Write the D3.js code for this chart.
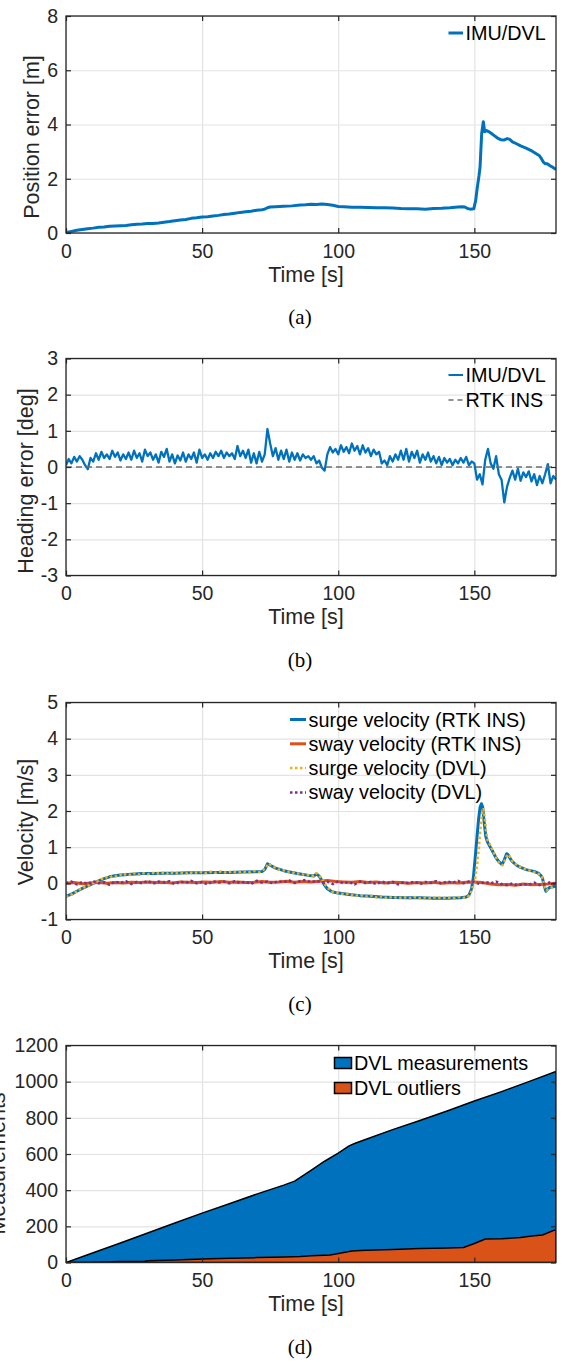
<!DOCTYPE html>
<html lang="en">
<head>
<meta charset="UTF-8">
<title>IMU/DVL navigation results</title>
<script src="https://d3js.org/d3.v7.min.js"></script>
<style>
  body { margin: 0; background: #fff; }
  svg { display: block; font-family: "Liberation Sans", Arial, sans-serif; }
  .tick text { fill: #262626; font-size: 19.5px; font-family: "Liberation Sans", Arial, sans-serif; }
  .tick line { stroke: #262626; stroke-width: 1.2; }
  .grid line { stroke: #e3e3e3; stroke-width: 1.2; }
  .grid path, .frame path { display: none; }
  .axis-label { font-size: 21.5px; fill: #262626; text-anchor: middle; }
  .caption { font-family: "Liberation Serif", "Times New Roman", serif; font-size: 21px; text-anchor: middle; fill: #000; }
  .legend text { font-size: 19.8px; fill: #000; }
</style>
</head>
<body>
<svg id="chart" width="565" height="1362"></svg>
<script>
// ---- data ----
const timeTicks = [0, 50, 100, 150];

// (a) position error [m], pairs of [time s, value]
const posError = [[0,0.02],[2,0.06],[4,0.1],[6,0.13],[8,0.16],[10,0.18],[12,0.21],[14,0.22],[16,0.25],[18,0.26],
  [20,0.27],[22,0.28],[24,0.3],[26,0.32],[28,0.33],[30,0.35],[32,0.35],[34,0.37],[36,0.4],[38,0.42],
  [40,0.45],[42,0.48],[44,0.5],[46,0.54],[48,0.56],[50,0.59],[52,0.6],[54,0.63],[56,0.65],[58,0.68],
  [60,0.7],[62,0.73],[64,0.76],[66,0.78],[68,0.8],[70,0.84],[72,0.86],[73,0.88],[74,0.93],[75,0.96],
  [77,0.97],[80,0.99],[83,1.0],[86,1.03],[88,1.04],[90,1.06],[92,1.05],[94,1.07],[96,1.05],[98,1.02],
  [100,0.98],[102,0.97],[105,0.95],[108,0.95],[111,0.94],[114,0.93],[117,0.93],[120,0.92],[123,0.9],[126,0.89],
  [129,0.89],[132,0.88],[135,0.9],[138,0.91],[141,0.93],[144,0.96],[145.5,0.97],[146.5,0.96],[147.5,0.9],[148.5,0.88],
  [149.8,0.89],[150.5,1.2],[151.1,1.69],[151.7,2.1],[152.1,2.43],[152.7,3.67],[153.3,4.1],[153.8,3.73],[154.5,3.78],[155.4,3.73],
  [156.3,3.67],[157.2,3.6],[158.5,3.5],[159.7,3.44],[161,3.43],[162.1,3.48],[163,3.45],[164,3.36],[165.5,3.29],[167,3.21],
  [169,3.13],[170.7,3.05],[172.3,2.95],[173.8,2.86],[174.6,2.75],[175.4,2.61],[176.1,2.55],[176.8,2.55],[177.8,2.48],[178.7,2.43],
  [180,2.34]];

// (b) heading error [deg], one sample per second from t = 0
const headingStep = 1;
const headingError = [
  0.05,0.22,0.1,0.28,0.15,0.3,0.2,0.05,-0.06,0.25,
  0.15,0.38,0.2,0.42,0.25,0.35,0.22,0.45,0.28,0.4,
  0.18,0.35,0.22,0.4,0.2,0.45,0.25,0.38,0.15,0.48,
  0.3,0.4,0.2,0.35,0.12,0.42,0.28,0.5,0.15,0.35,
  0.1,0.32,0.18,0.4,0.15,0.35,0.22,0.4,0.12,0.48,
  0.25,0.35,0.2,0.38,0.25,0.42,0.3,0.45,0.25,0.4,
  0.3,0.38,0.22,0.58,0.3,0.45,0.25,0.48,0.12,0.38,
  0.1,0.42,0.15,0.35,1.05,0.65,0.3,0.52,0.2,0.45,
  0.22,0.48,0.15,0.4,0.2,0.38,0.18,0.35,0.25,0.3,
  0.2,0.3,0.1,0.18,-0.02,-0.1,0.35,0.55,0.4,0.5,
  0.35,0.6,0.42,0.55,0.38,0.65,0.45,0.58,0.35,0.6,
  0.4,0.52,0.3,0.48,0.35,0.42,0.1,0.18,0.05,0.3,
  0.15,0.35,0.2,0.45,0.2,0.5,0.15,0.42,0.25,0.45,
  0.12,0.35,0.2,0.4,0.15,0.3,0.1,0.28,0.05,0.25,
  0.12,0.22,0.05,0.2,0.1,0.25,0.12,0.28,0.05,0.15,
  0.1,-0.35,-0.2,-0.48,0.2,0.5,0.1,-0.05,0.3,-0.2,
  -0.35,-0.98,-0.55,-0.3,-0.1,-0.35,-0.05,-0.38,-0.15,-0.28,
  -0.12,-0.4,-0.2,-0.5,-0.25,-0.45,-0.2,0.08,-0.45,-0.25,
  -0.35];
const rtkHeading = [[0,0],[180,0]];

// (c) velocities [m/s]
const surgeRtk = [[0,-0.36],[2,-0.3],[4,-0.22],[6,-0.14],[8,-0.07],[10,0.0],[12,0.07],[14,0.13],[16,0.18],[18,0.21],
  [20,0.23],[24,0.25],[28,0.27],[32,0.27],[36,0.28],[40,0.28],[45,0.29],[50,0.29],[55,0.3],[60,0.3],
  [65,0.31],[70,0.32],[72,0.33],[73,0.38],[74,0.54],[75,0.5],[77,0.42],[80,0.35],[83,0.3],[86,0.26],
  [89,0.22],[91,0.2],[92,0.26],[93,0.2],[94,0.08],[95,-0.05],[96,-0.15],[97,-0.2],[98,-0.24],[100,-0.27],
  [104,-0.31],[108,-0.34],[112,-0.36],[116,-0.38],[120,-0.39],[125,-0.4],[130,-0.4],[135,-0.41],[140,-0.41],[145,-0.4],
  [147,-0.38],[148,-0.33],[149,-0.15],[149.7,0.2],[150.3,0.7],[151,1.3],[151.6,1.8],[152.1,2.1],[152.6,2.2],[153.1,2.1],
  [153.6,1.7],[154.2,1.3],[154.8,1.15],[155.5,1.05],[156.6,0.9],[158,0.7],[159,0.6],[160.2,0.52],[161,0.65],[161.9,0.82],
  [162.5,0.78],[163.2,0.68],[164,0.6],[165.5,0.5],[167,0.44],[169,0.38],[171.9,0.33],[173.5,0.28],[174.4,0.22],[175,0.15],
  [175.6,-0.05],[176.3,-0.22],[176.8,-0.18],[177.5,-0.12],[178.5,-0.1],[180,-0.07]];
const surgeDvl = [[0,-0.38],[1,-0.33],[2,-0.31],[3,-0.25],[4,-0.23],[5,-0.17],[6,-0.15],[7,-0.09],[8,-0.08],[9,-0.02],
  [10,0.0],[11,0.05],[12,0.06],[13,0.12],[14,0.12],[15,0.17],[16,0.16],[17,0.2],[18,0.19],[20,0.24],
  [21,0.21],[22,0.26],[24,0.23],[25,0.28],[27,0.24],[28,0.29],[30,0.25],[32,0.29],[33,0.26],[35,0.3],
  [37,0.26],[38,0.31],[40,0.27],[42,0.3],[44,0.27],[45,0.31],[47,0.28],[49,0.32],[51,0.28],[53,0.32],
  [55,0.29],[57,0.33],[59,0.29],[61,0.33],[63,0.3],[65,0.33],[67,0.3],[69,0.34],[71,0.31],[72,0.35],
  [73,0.4],[74.5,0.55],[75.5,0.49],[77,0.43],[78,0.38],[80,0.36],[81,0.33],[83,0.31],[84,0.27],[86,0.27],
  [88,0.22],[89,0.23],[91,0.2],[92,0.28],[93,0.22],[94,0.12],[95,-0.02],[96,-0.12],[97,-0.17],[98,-0.24],
  [100,-0.26],[102,-0.3],[104,-0.29],[106,-0.35],[108,-0.32],[110,-0.37],[112,-0.34],[114,-0.39],[116,-0.36],[118,-0.41],
  [120,-0.37],[122,-0.41],[124,-0.38],[126,-0.42],[128,-0.38],[130,-0.41],[132,-0.39],[134,-0.42],[136,-0.38],[138,-0.41],
  [140,-0.39],[142,-0.42],[144,-0.38],[146,-0.4],[147.5,-0.38],[148.5,-0.3],[149.5,-0.08],[150.3,0.12],[151,0.5],[151.7,1.0],
  [152.3,1.55],[152.8,1.9],[153.3,2.05],[153.8,1.85],[154.3,1.45],[154.9,1.18],[155.5,1.1],[156.5,0.95],[157.5,0.78],[158.5,0.62],
  [159.4,0.55],[160.3,0.5],[161.2,0.64],[162.2,0.8],[163,0.74],[163.8,0.63],[165,0.55],[166.3,0.47],[167.5,0.43],[169,0.38],
  [170.5,0.35],[172,0.31],[173.5,0.26],[174.5,0.22],[175.2,0.12],[175.8,-0.08],[176.5,-0.2],[177.2,-0.15],[178.2,-0.12],[179.2,-0.08],
  [180,-0.06]];
const swayRtkStep = 3;
const swayRtk = [
  0.0,0.02,-0.01,0.01,0.03,0.0,0.02,0.01,0.03,0.02,
  0.04,0.02,0.03,0.01,0.04,0.03,0.02,0.04,0.03,0.05,
  0.03,0.04,0.02,0.03,0.05,0.03,0.04,0.06,0.03,0.05,
  0.04,0.06,0.08,0.05,0.04,0.03,0.05,0.02,0.04,0.01,
  0.03,0.02,0.0,0.02,0.01,0.03,0.0,0.02,0.01,0.03,
  0.04,0.02,-0.02,-0.04,-0.03,-0.05,-0.02,-0.04,-0.03,-0.02,
  0.0];
const swayDvlStep = 2;
const swayDvl = [
  0.0,0.05,-0.03,0.04,-0.02,0.06,0.0,0.03,-0.04,0.05,
  0.01,0.06,-0.02,0.04,0.0,0.07,-0.01,0.05,0.02,0.06,
  -0.02,0.05,0.01,0.07,0.0,0.04,-0.03,0.06,0.02,0.05,
  0.0,0.06,0.01,0.05,-0.02,0.07,0.02,0.05,0.0,0.06,
  0.03,0.08,0.01,0.06,0.09,0.03,0.07,0.02,0.05,-0.02,
  0.06,0.0,0.04,-0.03,0.05,0.01,0.04,-0.02,0.05,0.0,
  0.04,-0.03,0.03,0.0,0.05,-0.02,0.04,0.01,0.06,-0.01,
  0.05,0.02,0.07,0.0,0.05,0.03,-0.02,0.04,0.0,0.05,
  -0.02,-0.05,0.0,-0.06,-0.02,-0.04,0.02,-0.05,-0.01,0.03,
  -0.02];

// (d) cumulative counts
const dvlMeasurements = [[0,0],[10,54],[20,108],[30,163],[40,218],[50,273],[60,325],[70,378],[80,428],[84,450],
  [90,510],[95,560],[100,605],[104,645],[106,658],[110,680],[120,735],[130,785],[140,838],[150,893],
  [160,945],[170,1000],[180,1057]];
const dvlOutliers = [[0,0],[9,0],[10,2],[20,5],[29,7],[30,10],[40,14],[50,19],[60,23],[70,27],
  [80,30],[86,33],[90,38],[97,42],[100,50],[105,64],[110,68],[120,72],[130,77],[140,80],
  [146,83],[150,105],[154,130],[160,132],[167,138],[171,147],[175,152],[180,183]];

// ---- layout ----
const colors = {blue: "#0072BD", orange: "#D95319", yellow: "#EDB120", purple: "#7E2F8E"};
const left = 66, pw = 490, ph = 217;
const panels = [
  {top: 16, yDomain: [0, 8], yTicks: [0, 2, 4, 6, 8], ylabel: "Position error [m]", lx: 38.7, ly: 137, caption: "(a)"},
  {top: 358.5, yDomain: [-3, 3], yTicks: [-3, -2, -1, 0, 1, 2, 3], ylabel: "Heading error [deg]", lx: 33.3, ly: 481, caption: "(b)"},
  {top: 702.5, yDomain: [-1, 5], yTicks: [-1, 0, 1, 2, 3, 4, 5], ylabel: "Velocity [m/s]", lx: 33.3, ly: 822, caption: "(c)"},
  {top: 1045.5, yDomain: [0, 1200], yTicks: [0, 200, 400, 600, 800, 1000, 1200], ylabel: "Measurements", lx: 5, ly: 1163.5, caption: "(d)"}
];

const svg = d3.select("#chart");
const x = d3.scaleLinear().domain([0, 180]).range([0, pw]);

function setup(cfg, i) {
  const g = svg.append("g").attr("transform", `translate(${left},${cfg.top})`);
  const y = d3.scaleLinear().domain(cfg.yDomain).range([ph, 0]);
  g.append("g").attr("class", "grid").attr("transform", `translate(0,${ph})`)
    .call(d3.axisBottom(x).tickValues(timeTicks).tickSize(-ph).tickFormat(""));
  g.append("g").attr("class", "grid")
    .call(d3.axisLeft(y).tickValues(cfg.yTicks).tickSize(-pw).tickFormat(""));
  g.append("clipPath").attr("id", "clip" + i).append("rect").attr("width", pw).attr("height", ph);
  const plot = g.append("g").attr("clip-path", `url(#clip${i})`);
  return {g, y, plot};
}

function frame(p, cfg) {
  const {g, y} = p;
  g.append("g").attr("class", "frame").attr("transform", `translate(0,${ph})`)
    .call(d3.axisBottom(x).tickValues(timeTicks).tickSize(-5).tickPadding(11).tickFormat(d => String(d)));
  g.append("g").attr("class", "frame")
    .call(d3.axisTop(x).tickValues(timeTicks).tickSize(-5).tickFormat(""));
  g.append("g").attr("class", "frame")
    .call(d3.axisLeft(y).tickValues(cfg.yTicks).tickSize(-5).tickPadding(8).tickFormat(d => String(d)));
  g.append("g").attr("class", "frame").attr("transform", `translate(${pw},0)`)
    .call(d3.axisRight(y).tickValues(cfg.yTicks).tickSize(-5).tickFormat(""));
  g.append("rect").attr("width", pw).attr("height", ph)
    .attr("fill", "none").attr("stroke", "#262626").attr("stroke-width", 1.3);

  svg.append("text").attr("class", "axis-label")
    .attr("x", 306).attr("y", cfg.top + ph + 48.5).text("Time [s]");
  svg.append("text").attr("class", "axis-label")
    .attr("transform", `translate(${cfg.lx},${cfg.ly}) rotate(-90)`).text(cfg.ylabel);
  svg.append("text").attr("class", "caption")
    .attr("x", 300).attr("y", cfg.top + ph + 91).text(cfg.caption);
}

function legend(items, x0, x1, y0, dy) {
  const lg = svg.append("g").attr("class", "legend");
  items.forEach((it, k) => {
    const yy = y0 + k * dy;
    if (it.patch) {
      lg.append("rect").attr("x", x0).attr("y", yy - 5.5).attr("width", x1 - x0).attr("height", 11)
        .attr("fill", it.color).attr("stroke", "#000").attr("stroke-width", 1.5);
    } else {
      lg.append("line").attr("x1", x0).attr("x2", x1).attr("y1", yy).attr("y2", yy)
        .attr("stroke", it.color).attr("stroke-width", it.width)
        .attr("stroke-dasharray", it.dash || null);
    }
    lg.append("text").attr("x", x1 + 2.5).attr("y", yy + 7).text(it.label);
  });
}

function drawLine(p, data, color, width, dash) {
  const line = d3.line().x(d => x(d[0])).y(d => p.y(d[1]));
  p.plot.append("path").datum(data).attr("d", line)
    .attr("fill", "none").attr("stroke", color).attr("stroke-width", width)
    .attr("stroke-linejoin", "round").attr("stroke-dasharray", dash || null);
}

const sampled = (arr, step) => arr.map((v, i) => [i * step, v]);

// (a)
const pa = setup(panels[0], 0);
drawLine(pa, posError, colors.blue, 3);
frame(pa, panels[0]);
legend([{label: "IMU/DVL", color: colors.blue, width: 3}], 448.5, 463, 33, 25);

// (b)
const pb = setup(panels[1], 1);
drawLine(pb, sampled(headingError, headingStep), colors.blue, 2.3);
drawLine(pb, rtkHeading, "#6e6e6e", 1.5, "6,4");
frame(pb, panels[1]);
legend([
  {label: "IMU/DVL", color: colors.blue, width: 2},
  {label: "RTK INS", color: "#6e6e6e", width: 1.5, dash: "5,4"}
], 448.5, 463, 375, 25);

// (c)
const pc = setup(panels[2], 2);
drawLine(pc, surgeRtk, colors.blue, 3);
drawLine(pc, sampled(swayRtk, swayRtkStep), colors.orange, 3);
drawLine(pc, surgeDvl, colors.yellow, 2.5, "2.5,2.5");
drawLine(pc, sampled(swayDvl, swayDvlStep), colors.purple, 2.5, "2.5,2.5");
frame(pc, panels[2]);
legend([
  {label: "surge velocity (RTK INS)", color: colors.blue, width: 3},
  {label: "sway velocity (RTK INS)", color: colors.orange, width: 3},
  {label: "surge velocity (DVL)", color: colors.yellow, width: 2.5, dash: "2.5,2.5"},
  {label: "sway velocity (DVL)", color: colors.purple, width: 2.5, dash: "2.5,2.5"}
], 290, 306, 719.5, 24.3);

// (d)
const pd = setup(panels[3], 3);
const area = d3.area().x(d => x(d[0])).y0(pd.y(0)).y1(d => pd.y(d[1]));
pd.plot.append("path").datum(dvlMeasurements).attr("d", area)
  .attr("fill", colors.blue).attr("stroke", "#000").attr("stroke-width", 1.5).attr("stroke-linejoin", "round");
pd.plot.append("path").datum(dvlOutliers).attr("d", area)
  .attr("fill", colors.orange).attr("stroke", "#000").attr("stroke-width", 1.5).attr("stroke-linejoin", "round");
frame(pd, panels[3]);
legend([
  {label: "DVL measurements", color: colors.blue, patch: true},
  {label: "DVL outliers", color: colors.orange, patch: true}
], 334.5, 351.5, 1063, 25);
</script>
</body>
</html>
